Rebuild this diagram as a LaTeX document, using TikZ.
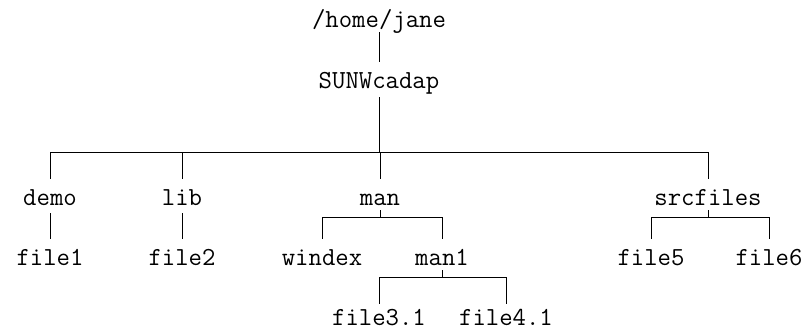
\documentclass[tikz,border=0pt]{standalone}

\begin{document}
\begin{tikzpicture}[x=1pt,y=-1pt]

	\def\rowa{27}
	\def\rowb{88}
	\def\rowc{205}
	\def\rowd{265}
	\def\rowe{325}

	% Styles
	\tikzstyle{item}=[anchor=base, inner sep=0pt, text height=14pt, text depth=0pt,
		font=\fontsize{26}{26}\selectfont\ttfamily]
	\tikzstyle{link}=[line width=0.9pt, shorten <=6pt, shorten >=12pt]

	\useasboundingbox (0,0) rectangle (809,330);

	% Directories and files
	\node[item] (home) at (379,\rowa) {/home/jane};
	\node[item] (sunw) at (379,\rowb) {SUNWcadap};
	\node[item] (demo) at (50,\rowc) {demo};
	\node[item] (lib) at (182,\rowc) {lib};
	\node[item] (man) at (380,\rowc) {man};
	\node[item] (src) at (708,\rowc) {srcfiles};
	\node[item] (file1) at (50,\rowd) {file1};
	\node[item] (file2) at (182,\rowd) {file2};
	\node[item] (windex) at (322,\rowd) {windex};
	\node[item] (manone) at (442,\rowd) {man1};
	\node[item] (file5) at (651,\rowd) {file5};
	\node[item] (file6) at (769,\rowd) {file6};
	\node[item] (file3) at (379,\rowe) {file3.1};
	\node[item] (file4) at (506,\rowe) {file4.1};

	% Bars
	\coordinate (topbar) at (0,152);
	\coordinate (midbar) at (0,217);
	\coordinate (lowbar) at (0,277);

	% Links
	\draw[link, shorten <=5pt] (home) -- (sunw);
	\foreach \child in {demo, lib, man, src}
		\draw[link, shorten <=9pt] (sunw.south) -- (sunw.south |- topbar) -| (\child.north);
	\draw[link, shorten <=8pt] (demo.south) -- (file1.north);
	\draw[link, shorten <=8pt] (lib.south) -- (file2.north);
	\foreach \child in {windex, manone}
		\draw[link, shorten <=5pt] (man.south) -- (man.south |- midbar) -| (\child.north);
	\foreach \child in {file5, file6}
		\draw[link, shorten <=5pt] (src.south) -- (src.south |- midbar) -| (\child.north);
	\foreach \child in {file3, file4}
		\draw[link, shorten <=5pt, shorten >=7pt] (manone.south) -- (manone.south |- lowbar) -| (\child.north);

\end{tikzpicture}
\end{document}
